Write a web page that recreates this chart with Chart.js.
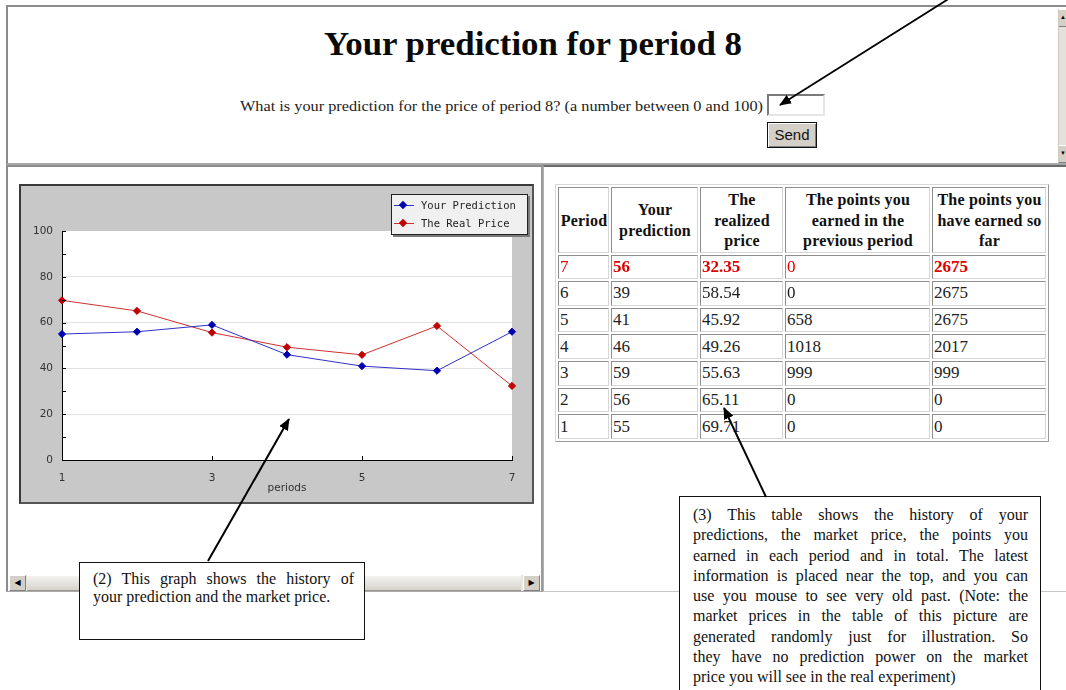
<!DOCTYPE html>
<html><head><meta charset="utf-8">
<script src="https://cdn.jsdelivr.net/npm/chart.js@4.4.0/dist/chart.umd.min.js"></script>
<style>
html,body{margin:0;padding:0;background:#fff;}
body{width:1066px;height:690px;overflow:hidden;position:relative;font-family:"Liberation Serif","Times New Roman",serif;color:#111;}
.abs{position:absolute;box-sizing:border-box;}
#topframe{left:6px;top:5px;width:1060px;height:160px;border-top:2px solid #8c8c8c;border-left:2px solid #8c8c8c;border-bottom:2px solid #a8a8a8;}
#title{left:324px;top:28px;font-weight:bold;font-size:33px;line-height:32px;color:#0a0a0a;white-space:nowrap;transform-origin:0 0;}
#question{left:240px;top:98px;font-size:15px;line-height:16px;white-space:nowrap;color:#222;transform-origin:0 0;}
#inp{left:767px;top:94px;width:58px;height:22px;border:2px solid;border-color:#7a7a7a #e6e6e6 #e6e6e6 #7a7a7a;background:#fff;}
#send{left:767px;top:122px;width:50px;height:26px;background:#d4d0c8;border:1px solid #111;box-shadow:inset 1px 1px 0 #fff,inset -1px -1px 0 #808080;font-family:"Liberation Sans",Arial,sans-serif;font-size:15px;line-height:24px;text-align:center;color:#111;}
#vscroll{left:1058px;top:9px;width:8px;height:154px;background:#e4e1da;border-left:1px solid #cfcbc2;}
.vbtn{position:absolute;left:0;width:8px;height:16px;background:#d4d0c8;border-top:1px solid #fff;border-bottom:1px solid #808080;font-size:6px;line-height:15px;text-align:center;overflow:hidden;color:#000;}
#leftframe{left:6px;top:165px;width:537px;height:427px;border-top:2px solid #8c8c8c;border-left:2px solid #8c8c8c;border-right:2px solid #9a9a9a;border-bottom:1px solid #aaa;}
#rightframe{left:543px;top:165px;width:523px;height:427px;border-top:2px solid #6c6c6c;border-left:1px solid #b0b0b0;border-bottom:1px solid #c8c8c8;}
#hscroll{left:9px;top:575px;width:531px;height:16px;background:#e8e6e1;}
#hscroll .thumb{position:absolute;left:18px;top:0;width:494px;height:16px;background:linear-gradient(#f4f3f0,#d6d3cc);border-top:1px solid #fff;border-bottom:1px solid #9a968e;box-sizing:border-box;}
.hbtn{position:absolute;top:0;width:17px;height:16px;background:#d4d0c8;border:1px solid;border-color:#fff #808080 #808080 #fff;box-sizing:border-box;font-size:8px;line-height:14px;text-align:center;color:#000;font-family:"DejaVu Sans",sans-serif;}
#chartbox{left:19px;top:184px;width:515px;height:320px;background:#c8c8c8;border:2px solid #3a3a3a;border-right-color:#555;border-bottom-color:#555;}
#chartbox canvas{position:absolute;left:0;top:0;}
#legend{left:391px;top:194px;width:137px;height:41px;background:#f0f0f0;border:1px solid #222;box-shadow:2px 2px 0 #7a7a7a;font-family:"DejaVu Sans Mono",monospace;font-size:10.5px;color:#222;}
.lrow{position:absolute;left:0;height:14px;width:135px;}
.lline{position:absolute;left:2px;top:6px;width:20px;height:1px;}
.ldia{position:absolute;left:8px;top:3px;width:6px;height:6px;transform:rotate(45deg);}
.ltxt{position:absolute;left:29px;top:0;line-height:13px;white-space:nowrap;}
#tablewrap{left:555px;top:184px;}
table.hist{border-collapse:separate;border-spacing:2px;border:1px solid;border-color:#d8d8d8 #9a9a9a #9a9a9a #d8d8d8;table-layout:fixed;}
table.hist td,table.hist th{border:1px solid;border-color:#8e8e8e #d6d6d6 #d6d6d6 #8e8e8e;padding:0 0 0 1px;box-sizing:border-box;}
table.hist th{font-weight:bold;font-size:16px;line-height:20.5px;text-align:center;height:65px;color:#111;letter-spacing:0.2px;padding-top:2px;}
table.hist td{font-size:17px;height:24.67px;line-height:20px;text-align:left;color:#222;white-space:nowrap;overflow:hidden;}
table.hist tr.latest td{color:#e00000;}
table.hist tr.latest td.b{font-weight:bold;}
.callout{position:absolute;box-sizing:border-box;background:#fff;border:1px solid #111;font-family:"Liberation Serif","Times New Roman",serif;font-size:16px;color:#111;}
.callout .ln{text-align:justify;text-align-last:justify;white-space:nowrap;}
.callout .ln.last{text-align:left;text-align-last:left;}
#c2{left:79px;top:562px;width:286px;height:78px;padding:7px 10px 0 13px;line-height:18px;}
#c3{left:679px;top:496px;width:362px;height:220px;padding:8px 12px 0 13px;line-height:20.3px;}
#c3 .ln,#c2 .ln{white-space:normal;height:auto;}
svg#arrows{position:absolute;left:0;top:0;width:1066px;height:690px;pointer-events:none;}
</style></head>
<body>
<script>
// ---- data ----
const periods = [1, 2, 3, 4, 5, 6, 7];
const yourPrediction = [55, 56, 59, 46, 41, 39, 56];
const realPrice = [69.71, 65.11, 55.63, 49.26, 45.92, 58.54, 32.35];
const pointsPrevious = [0, 0, 999, 1018, 658, 0, 0];
const pointsTotal = [0, 0, 999, 2017, 2675, 2675, 2675];
const xTicks = [1, 3, 5, 7];
const yTicks = [0, 20, 40, 60, 80, 100];
const yMinorTicks = [0, 10, 20, 30, 40, 50, 60, 70, 80, 90, 100];
const seriesNames = ['Your Prediction', 'The Real Price'];
const tableHeaders = ['Period', 'Your prediction', 'The realized price', 'The points you earned in the previous period', 'The points you have earned so far'];
</script>

<div class="abs" id="topframe"></div>
<div class="abs" id="title">Your prediction for period 8</div>
<div class="abs" id="question">What is your prediction for the price of period 8? (a number between 0 and 100)</div>
<div class="abs" id="inp"></div>
<div class="abs" id="send">Send</div>
<div class="abs" id="vscroll">
  <div class="vbtn" style="top:0">&#9650;</div>
  <div class="vbtn" style="top:136px">&#9660;</div>
</div>

<div class="abs" id="leftframe"></div>
<div class="abs" id="rightframe"></div>
<div class="abs" id="hscroll">
  <div class="hbtn" style="left:0">&#9664;</div>
  <div class="thumb"></div>
  <div class="hbtn" style="left:514px">&#9654;</div>
</div>

<div class="abs" id="chartbox"><canvas id="chart" width="511" height="316"></canvas></div>
<div class="abs" id="legend">
  <div class="lrow" style="top:4px"><div class="lline" style="background:#3030c8"></div><div class="ldia" style="background:#0000b0"></div><div class="ltxt" id="lg0"></div></div>
  <div class="lrow" style="top:22px"><div class="lline" style="background:#d03030"></div><div class="ldia" style="background:#c00000"></div><div class="ltxt" id="lg1"></div></div>
</div>

<div class="abs" id="tablewrap"><table class="hist" id="hist"></table></div>

<div class="callout" id="c2">
  <div class="ln">(2) This graph shows the history of</div>
  <div class="ln last">your prediction and the market price.</div>
</div>
<div class="callout" id="c3">
  <div class="ln">(3) This table shows the history of your</div>
  <div class="ln">predictions, the market price, the points you</div>
  <div class="ln">earned in each period and in total. The latest</div>
  <div class="ln">information is placed near the top, and you can</div>
  <div class="ln">use you mouse to see very old past. (Note: the</div>
  <div class="ln">market prices in the table of this picture are</div>
  <div class="ln">generated randomly just for illustration. So</div>
  <div class="ln">they have no prediction power on the market</div>
  <div class="ln last">price you will see in the real experiment)</div>
</div>

<svg id="arrows" viewBox="0 0 1066 690">
  <defs>
    <marker id="ah" markerWidth="12" markerHeight="10" refX="11" refY="5" orient="auto" markerUnits="userSpaceOnUse">
      <path d="M0,0 L12,5 L0,10 Z" fill="#000"/>
    </marker>
  </defs>
  <line x1="950" y1="-2" x2="780" y2="105" stroke="#000" stroke-width="1.8" marker-end="url(#ah)"/>
  <line x1="208" y1="561" x2="289" y2="419" stroke="#000" stroke-width="2" marker-end="url(#ah)"/>
  <line x1="766" y1="497" x2="724" y2="408" stroke="#000" stroke-width="2" marker-end="url(#ah)"/>
</svg>

<script>
// stretch page texts horizontally to match the reference widths
function fitWidth(id, target) {
  const el = document.getElementById(id);
  const w = el.getBoundingClientRect().width;
  if (w > 0) el.style.transform = 'scaleX(' + (target / w) + ')';
}
fitWidth('title', 418);
fitWidth('question', 523);

// legend text
document.getElementById('lg0').textContent = seriesNames[0];
document.getElementById('lg1').textContent = seriesNames[1];

// table
(function(){
  const t = document.getElementById('hist');
  const widths = [51, 87, 83, 145, 114];
  let html = '<colgroup>' + widths.map(w => '<col style="width:' + w + 'px">').join('') + '</colgroup>';
  html += '<tr>' + tableHeaders.map(h => '<th>' + h + '</th>').join('') + '</tr>';
  for (let i = periods.length - 1; i >= 0; i--) {
    const latest = i === periods.length - 1;
    html += '<tr' + (latest ? ' class="latest"' : '') + '>' +
      '<td>' + periods[i] + '</td>' +
      '<td class="b">' + yourPrediction[i] + '</td>' +
      '<td class="b">' + realPrice[i].toFixed(2) + '</td>' +
      '<td>' + pointsPrevious[i] + '</td>' +
      '<td class="b">' + pointsTotal[i] + '</td></tr>';
  }
  t.innerHTML = html;
})();

// chart
const whitePlot = {
  id: 'whitePlot',
  beforeDraw(chart) {
    const {ctx, chartArea: a} = chart;
    ctx.save();
    ctx.fillStyle = '#ffffff';
    ctx.fillRect(a.left, a.top, a.right - a.left, a.bottom - a.top);
    ctx.restore();
  }
};
const innerTicks = {
  id: 'innerTicks',
  afterDraw(chart) {
    const {ctx, chartArea: a, scales} = chart;
    ctx.save();
    ctx.strokeStyle = '#000';
    ctx.lineWidth = 1;
    ctx.beginPath();
    yMinorTicks.forEach(v => {
      const y = Math.round(scales.y.getPixelForValue(v)) + 0.5;
      ctx.moveTo(a.left, y); ctx.lineTo(a.left + 4, y);
    });
    xTicks.forEach(v => {
      const x = Math.round(scales.x.getPixelForValue(v)) + 0.5;
      ctx.moveTo(x, a.bottom); ctx.lineTo(x, a.bottom - 4);
    });
    ctx.stroke();
    ctx.restore();
  }
};
const tickFont = {family: 'DejaVu Sans', size: 10.5};
new Chart(document.getElementById('chart'), {
  type: 'line',
  data: {
    datasets: [
      {
        label: seriesNames[0],
        data: periods.map((p, i) => ({x: p, y: yourPrediction[i]})),
        borderColor: '#3030c8', borderWidth: 1,
        pointStyle: 'rectRot', pointRadius: 3.6,
        pointBackgroundColor: '#0000b0', pointBorderColor: '#0000b0', pointBorderWidth: 1,
        tension: 0, clip: false
      },
      {
        label: seriesNames[1],
        data: periods.map((p, i) => ({x: p, y: realPrice[i]})),
        borderColor: '#d03030', borderWidth: 1,
        pointStyle: 'rectRot', pointRadius: 3.6,
        pointBackgroundColor: '#c00000', pointBorderColor: '#c00000', pointBorderWidth: 1,
        tension: 0, clip: false
      }
    ]
  },
  options: {
    responsive: false, animation: false, events: [],
    layout: {padding: {top: 45, right: 20, left: 0, bottom: 0}},
    plugins: {legend: {display: false}, tooltip: {enabled: false}},
    scales: {
      x: {
        type: 'linear', min: 1, max: 7,
        afterBuildTicks: s => { s.ticks = xTicks.map(v => ({value: v})); },
        afterFit: s => { s.height = 42; },
        grid: {display: false, drawTicks: false},
        border: {display: true, color: '#000', width: 1},
        ticks: {padding: 12, color: '#333', font: tickFont, maxRotation: 0, autoSkip: false},
        title: {display: true, text: 'periods', color: '#333', font: {family: 'DejaVu Sans', size: 10.5}, padding: {top: 0, bottom: 7}}
      },
      y: {
        min: 0, max: 100,
        afterBuildTicks: s => { s.ticks = yTicks.map(v => ({value: v})); },
        afterFit: s => { s.width = 41; },
        grid: {drawTicks: false, color: c => (c.tick && c.tick.value > 0 && c.tick.value < 100) ? '#e2e2e2' : 'rgba(0,0,0,0)', lineWidth: 1},
        border: {display: true, color: '#000', width: 1},
        ticks: {padding: 9, color: '#333', font: tickFont, autoSkip: false}
      }
    }
  },
  plugins: [whitePlot, innerTicks]
});
</script>
</body></html>
